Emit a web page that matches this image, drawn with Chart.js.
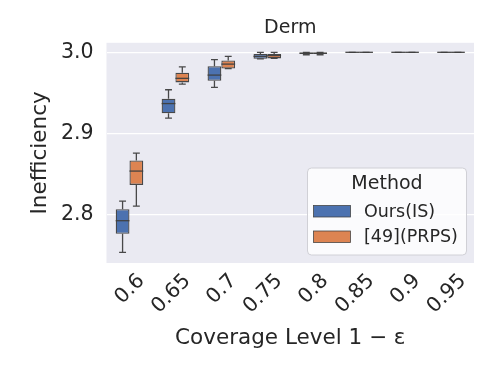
<!DOCTYPE html>
<html>
<head>
<meta charset="utf-8">
<script src="https://cdn.jsdelivr.net/npm/chart.js@4.4.1/dist/chart.umd.min.js"></script>
<style>
  html, body { margin: 0; padding: 0; background: #fff; }
</style>
</head>
<body>
<canvas id="chart-derm" width="498" height="374"></canvas>
<script>
const categories = ['0.6', '0.65', '0.7', '0.75', '0.8', '0.85', '0.9', '0.95'];
const methods = ['Ours(IS)', '[49](PRPS)'];
const couleurs = ['#4c72b0', '#dd8452'];
const yTicks = [2.8, 2.9, 3.0];

// Ours(IS) : moustache basse, Q1, médiane, Q3, moustache haute
const oursLo  = [2.754, 2.919, 2.957, 2.992, 2.997, 3.0, 3.0, 3.0];
const oursQ1  = [2.777, 2.925, 2.965, 2.992, 2.998, 3.0, 3.0, 3.0];
const oursMed = [2.793, 2.937, 2.972, 2.995, 2.999, 3.0, 3.0, 3.0];
const oursQ3  = [2.807, 2.943, 2.983, 2.998, 2.9995, 3.0, 3.0, 3.0];
const oursHi  = [2.817, 2.954, 2.991, 3.0, 3.0, 3.0, 3.0, 3.0];

// [49](PRPS)
const prpsLo  = [2.811, 2.961, 2.980, 2.9925, 2.997, 3.0, 3.0, 3.0];
const prpsQ1  = [2.837, 2.963, 2.980, 2.9925, 2.998, 3.0, 3.0, 3.0];
const prpsMed = [2.854, 2.968, 2.9855, 2.996, 2.999, 3.0, 3.0, 3.0];
const prpsQ3  = [2.867, 2.975, 2.990, 2.998, 2.9995, 3.0, 3.0, 3.0];
const prpsHi  = [2.876, 2.982, 2.995, 3.0, 3.0, 3.0, 3.0, 3.0];

const stats = [
    { lo: oursLo, q1: oursQ1, med: oursMed, q3: oursQ3, hi: oursHi },
    { lo: prpsLo, q1: prpsQ1, med: prpsMed, q3: prpsQ3, hi: prpsHi }
];

const EDGE = 'rgba(63,63,63,0.95)';
const FONT = 'DejaVu Sans';

// fond gris du cadre, comme seaborn darkgrid
const fondPlugin = {
    id: 'fond',
    beforeDraw(chart) {
        const a = chart.chartArea;
        const ctx = chart.ctx;
        ctx.save();
        ctx.fillStyle = '#eaeaf2';
        ctx.fillRect(a.left, a.top, a.right - a.left, a.bottom - a.top);
        ctx.restore();
    }
};

// moustaches et médianes à partir des barres flottantes
const boitePlugin = {
    id: 'boites',
    afterDatasetsDraw(chart) {
        const ctx = chart.ctx;
        const y = chart.scales.y;
        ctx.save();
        ctx.strokeStyle = EDGE;
        ctx.lineWidth = 1.3;
        stats.forEach(function (s, i) {
            const meta = chart.getDatasetMeta(i);
            meta.data.forEach(function (bar, j) {
                const x = bar.x;
                const w = bar.width;
                const yLo = y.getPixelForValue(s.lo[j]);
                const yQ1 = y.getPixelForValue(s.q1[j]);
                const yQ3 = y.getPixelForValue(s.q3[j]);
                const yHi = y.getPixelForValue(s.hi[j]);
                const yMed = y.getPixelForValue(s.med[j]);
                ctx.beginPath();
                ctx.moveTo(x, yQ3); ctx.lineTo(x, yHi);
                ctx.moveTo(x, yQ1); ctx.lineTo(x, yLo);
                ctx.moveTo(x - w / 4, yHi); ctx.lineTo(x + w / 4, yHi);
                ctx.moveTo(x - w / 4, yLo); ctx.lineTo(x + w / 4, yLo);
                ctx.stroke();
                ctx.beginPath();
                ctx.moveTo(x - w / 2, yMed); ctx.lineTo(x + w / 2, yMed);
                ctx.stroke();
            });
        });
        ctx.restore();
    }
};

// légende dans le cadre, en bas à droite
const legendePlugin = {
    id: 'legende',
    afterDraw(chart) {
        const ctx = chart.ctx;
        const a = chart.chartArea;
        const w = 159, h = 87;
        const x0 = a.right - 7.5 - w;
        const y0 = a.bottom - 8 - h;
        ctx.save();
        ctx.beginPath();
        ctx.roundRect(x0, y0, w, h, 4);
        ctx.fillStyle = 'rgba(255,255,255,0.8)';
        ctx.fill();
        ctx.strokeStyle = '#d0d0d6';
        ctx.lineWidth = 1;
        ctx.stroke();
        ctx.fillStyle = '#262626';
        ctx.textBaseline = 'middle';
        ctx.textAlign = 'center';
        ctx.font = '19px "' + FONT + '"';
        ctx.fillText('Method', x0 + w / 2, y0 + 16);
        ctx.textAlign = 'left';
        ctx.font = '17.5px "' + FONT + '"';
        methods.forEach(function (m, i) {
            const yy = y0 + 43 + i * 25.5;
            ctx.fillStyle = couleurs[i];
            ctx.fillRect(x0 + 6, yy - 5.5, 37, 11.5);
            ctx.strokeStyle = EDGE;
            ctx.lineWidth = 0.8;
            ctx.strokeRect(x0 + 6, yy - 5.5, 37, 11.5);
            ctx.fillStyle = '#262626';
            ctx.fillText(m, x0 + 56.5, yy + 1);
        });
        ctx.restore();
    }
};

const datasets = stats.map(function (s, i) {
    return {
        label: methods[i],
        data: s.q1.map(function (v, j) { return [v, s.q3[j]]; }),
        backgroundColor: couleurs[i],
        borderColor: EDGE,
        borderWidth: 1.3,
        borderSkipped: false,
        categoryPercentage: 0.6,
        barPercentage: 1.0
    };
});

const config = {
    type: 'bar',
    data: { labels: categories, datasets: datasets },
    options: {
        responsive: false,
        animation: false,
        devicePixelRatio: 1,
        layout: { padding: { left: 0, right: 24, top: 0, bottom: 0 } },
        plugins: {
            legend: { display: false },
            tooltip: { enabled: false },
            title: {
                display: true,
                fullSize: false,
                text: 'Derm',
                color: '#262626',
                font: { family: FONT, size: 19, weight: 'normal' },
                padding: { top: 17, bottom: 3 }
            }
        },
        scales: {
            x: {
                type: 'category',
                offset: true,
                grid: { display: false },
                border: { display: false },
                ticks: {
                    color: '#262626',
                    font: { family: FONT, size: 20.5 },
                    minRotation: 45,
                    maxRotation: 45,
                    padding: -2,
                    labelOffset: 12
                },
                title: {
                    display: true,
                    text: 'Coverage Level 1 \u2212 \u03b5',
                    color: '#262626',
                    font: { family: FONT, size: 21.5 },
                    padding: { top: 0, bottom: 23 }
                },
                afterFit(scale) { scale.height = 111; }
            },
            y: {
                min: 2.741,
                max: 3.0117,
                grid: { color: '#ffffff', lineWidth: 1.3, drawTicks: false },
                border: { display: false },
                afterBuildTicks(scale) {
                    scale.ticks = yTicks.map(function (v) { return { value: v }; });
                },
                ticks: {
                    color: '#262626',
                    font: { family: FONT, size: 20.5 },
                    padding: 13,
                    callback: function (v) { return Number(v).toFixed(1); }
                },
                title: {
                    display: true,
                    text: 'Inefficiency',
                    color: '#262626',
                    font: { family: FONT, size: 21.5 },
                    padding: { top: 28, bottom: 0 }
                },
                afterFit(scale) { scale.width = 106.5; }
            }
        }
    },
    plugins: [fondPlugin, boitePlugin, legendePlugin]
};

new Chart(document.getElementById('chart-derm'), config);
</script>
</body>
</html>
